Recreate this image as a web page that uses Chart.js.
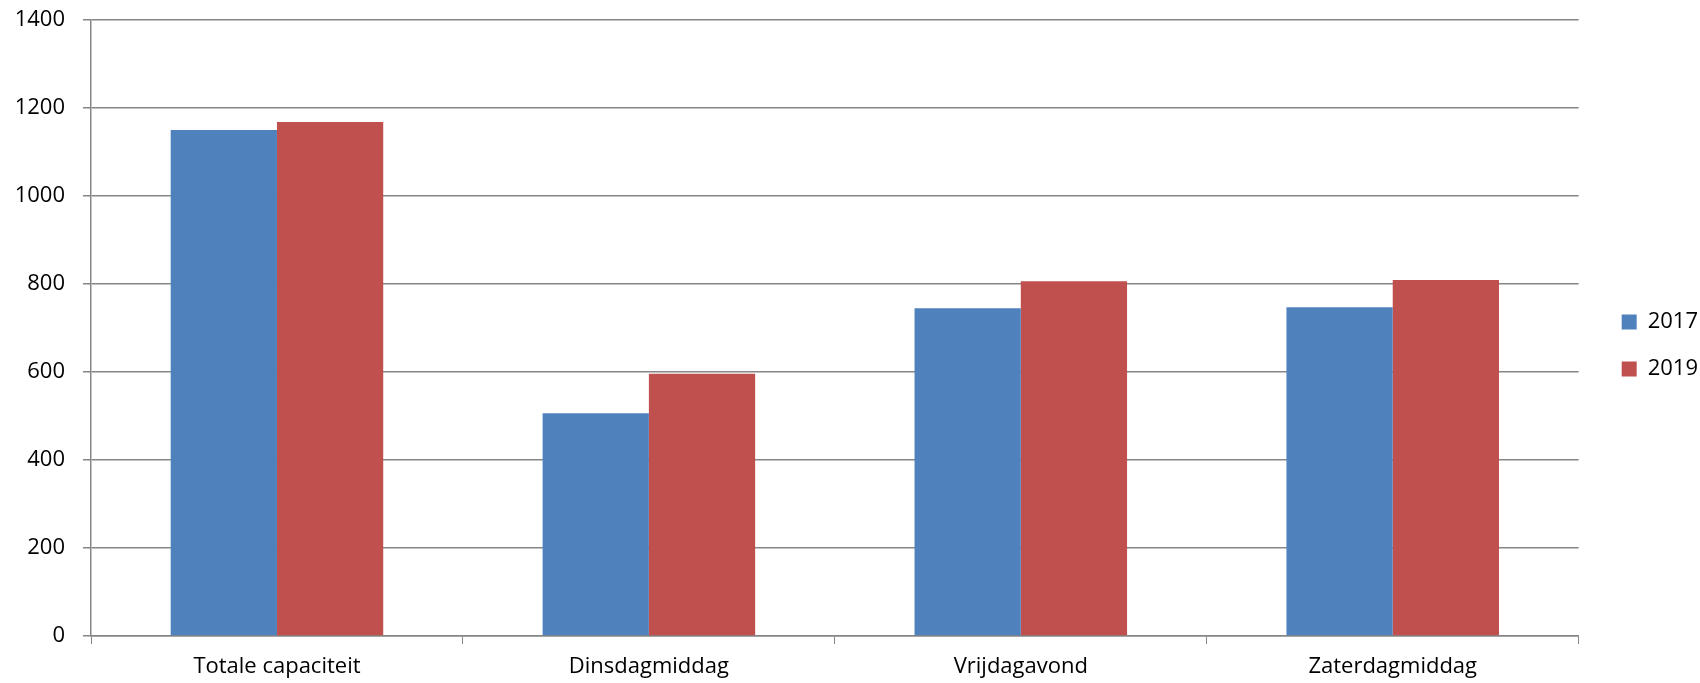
<!DOCTYPE html>
<html>
<head>
<meta charset="utf-8">
<script src="https://cdn.jsdelivr.net/npm/chart.js@4/dist/chart.umd.min.js"></script>
<style>
  html, body { margin: 0; padding: 0; background: #fff; }
  #wrap { width: 1700px; height: 683px; }
</style>
</head>
<body>
<div id="wrap"><canvas id="chart" width="1700" height="683"></canvas></div>
<script>
// --- data ---
const categories = ['Totale capaciteit', 'Dinsdagmiddag', 'Vrijdagavond', 'Zaterdagmiddag'];
const values2017 = [1150, 506, 745, 747];
const values2019 = [1168, 596, 806, 809];
const yTicks = [0, 200, 400, 600, 800, 1000, 1200, 1400];

const gridGray = '#868686';
const font = { family: '"Open Sans", sans-serif', size: 22 };

// nudge the legend a bit to the right/down, like the original
const legendShift = {
    id: 'legendShift',
    afterLayout(chart) {
        const lg = chart.legend;
        lg.left += 18; lg.right += 18;
        lg.top += 4; lg.bottom += 4;
    }
};

new Chart(document.getElementById('chart'), {
    type: 'bar',
    data: {
        labels: categories,
        datasets: [
            { label: '2017', data: values2017, backgroundColor: '#4F81BD', borderWidth: 0 },
            { label: '2019', data: values2019, backgroundColor: '#C0504D', borderWidth: 0 }
        ]
    },
    plugins: [legendShift],
    options: {
        responsive: false,
        animation: false,
        layout: { padding: { left: 0, top: 0, right: 10, bottom: 0 } },
        datasets: { bar: { categoryPercentage: 2 / 3.5, barPercentage: 1 } },
        plugins: {
            tooltip: { enabled: false },
            legend: {
                position: 'right',
                labels: {
                    color: '#000',
                    font: { family: font.family, size: 22 },
                    boxWidth: 15,
                    boxHeight: 15,
                    padding: 25
                }
            }
        },
        scales: {
            x: {
                afterFit: (scale) => { scale.height = 47; },
                grid: { drawOnChartArea: false, color: gridGray, tickLength: 8, offset: true },
                border: { color: gridGray, width: 1.5 },
                ticks: { color: '#000', font: font, padding: 10, maxRotation: 0 }
            },
            y: {
                min: 0,
                max: 1400,
                afterFit: (scale) => { scale.width = 91; },
                afterBuildTicks: (scale) => { scale.ticks = yTicks.map(v => ({ value: v })); },
                grid: { color: gridGray, lineWidth: 1.5, tickLength: 8 },
                border: { color: gridGray, width: 1.5 },
                ticks: {
                    color: '#000',
                    font: { family: font.family, size: 22, lineHeight: 0.18 },
                    padding: 18,
                    callback: (v) => String(v)
                }
            }
        }
    }
});
</script>
</body>
</html>
